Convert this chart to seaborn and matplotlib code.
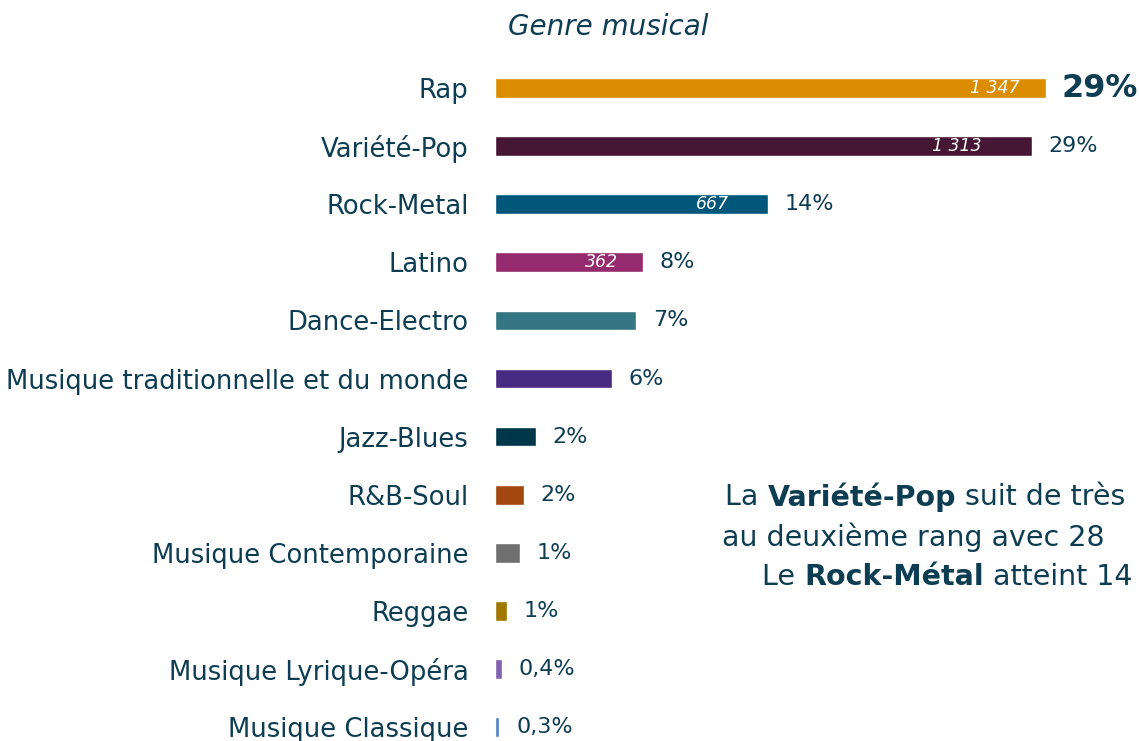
import matplotlib
matplotlib.use("Agg")
import matplotlib.pyplot as plt
import seaborn as sns
import pandas as pd

# data
genres = ["Rap", "Variété-Pop", "Rock-Metal", "Latino", "Dance-Electro",
          "Musique traditionnelle et du monde", "Jazz-Blues", "R&B-Soul",
          "Musique Contemporaine", "Reggae", "Musique Lyrique-Opéra", "Musique Classique"]
counts = [1347, 1313, 667, 362, 345, 286, 100, 71, 61, 29, 17, 11]
count_labels = ["1 347", "1 313", "667", "362", "", "", "", "", "", "", "", ""]
pct_labels = ["29%", "29%", "14%", "8%", "7%", "6%", "2%", "2%", "1%", "1%", "0,4%", "0,3%"]
colors = ["#DB8C00", "#461734", "#00577A", "#962A6E", "#337682", "#472A82",
          "#00364A", "#A34610", "#707070", "#A07800", "#7F62B0", "#4F7FBF"]
# offset (pt) of the inner count labels from the bar end
inner_off = [19, 36, 28, 18, 0, 0, 0, 0, 0, 0, 0, 0]

txt = "#0D3D52"

df = pd.DataFrame({"genre": genres, "count": counts})

sns.set_theme(style="white")
plt.rcParams["font.family"] = ["DejaVu Sans"]

fig = plt.figure(figsize=(11.39, 7.41), dpi=100)
ax = fig.add_axes([495 / 1139, 0.0, 644 / 1139, 682 / 741])

sns.barplot(data=df, x="count", y="genre", hue="genre", palette=dict(zip(genres, colors)),
            orient="h", width=0.34, legend=False, saturation=1, ax=ax)

ax.set_xlim(0, 1575)
ax.set_ylim(11.24, -0.5)
ax.set_xlabel("")
ax.set_ylabel("")
ax.set_xticks([])
ax.tick_params(axis="y", length=0, pad=19, labelsize=18.6, labelcolor=txt)
sns.despine(ax=ax, left=True, bottom=True)

# labels
for i, (c, cl, pl) in enumerate(zip(counts, count_labels, pct_labels)):
    if cl:
        ax.annotate(cl, (c, i), xytext=(-inner_off[i], 0), textcoords="offset points",
                    ha="right", va="center", color="white", style="italic",
                    fontsize=12.5, fontweight="light")
    if i == 0:
        ax.annotate(pl, (c, i), xytext=(11, 0), textcoords="offset points",
                    ha="left", va="center", color=txt, fontsize=23, fontweight="bold")
    else:
        ax.annotate(pl, (c, i), xytext=(12, 0), textcoords="offset points",
                    ha="left", va="center", color=txt, fontsize=16)

fig.text(608 / 1139, 1 - 27 / 741, "Genre musical", ha="center", va="center",
         style="italic", fontsize=20, color=txt)

# comment text with bold pieces (cut at the right edge like the original)
comment = [
    (725, 497, [("La ", "normal"), ("Variété-Pop", "bold"), (" suit de très", "normal")]),
    (722, 537, [("au deuxième rang avec 28", "normal")]),
    (762, 577, [("Le ", "normal"), ("Rock-Métal", "bold"), (" atteint 14", "normal")]),
]
renderer = fig.canvas.get_renderer()
for x0, y0, parts in comment:
    x = x0
    for s, w in parts:
        t = fig.text(x / 1139, 1 - y0 / 741, s, ha="left", va="center",
                     fontsize=20.5, fontweight=w, color=txt)
        bb = t.get_window_extent(renderer=renderer)
        x += bb.width

fig.savefig("out.png", dpi=100)
